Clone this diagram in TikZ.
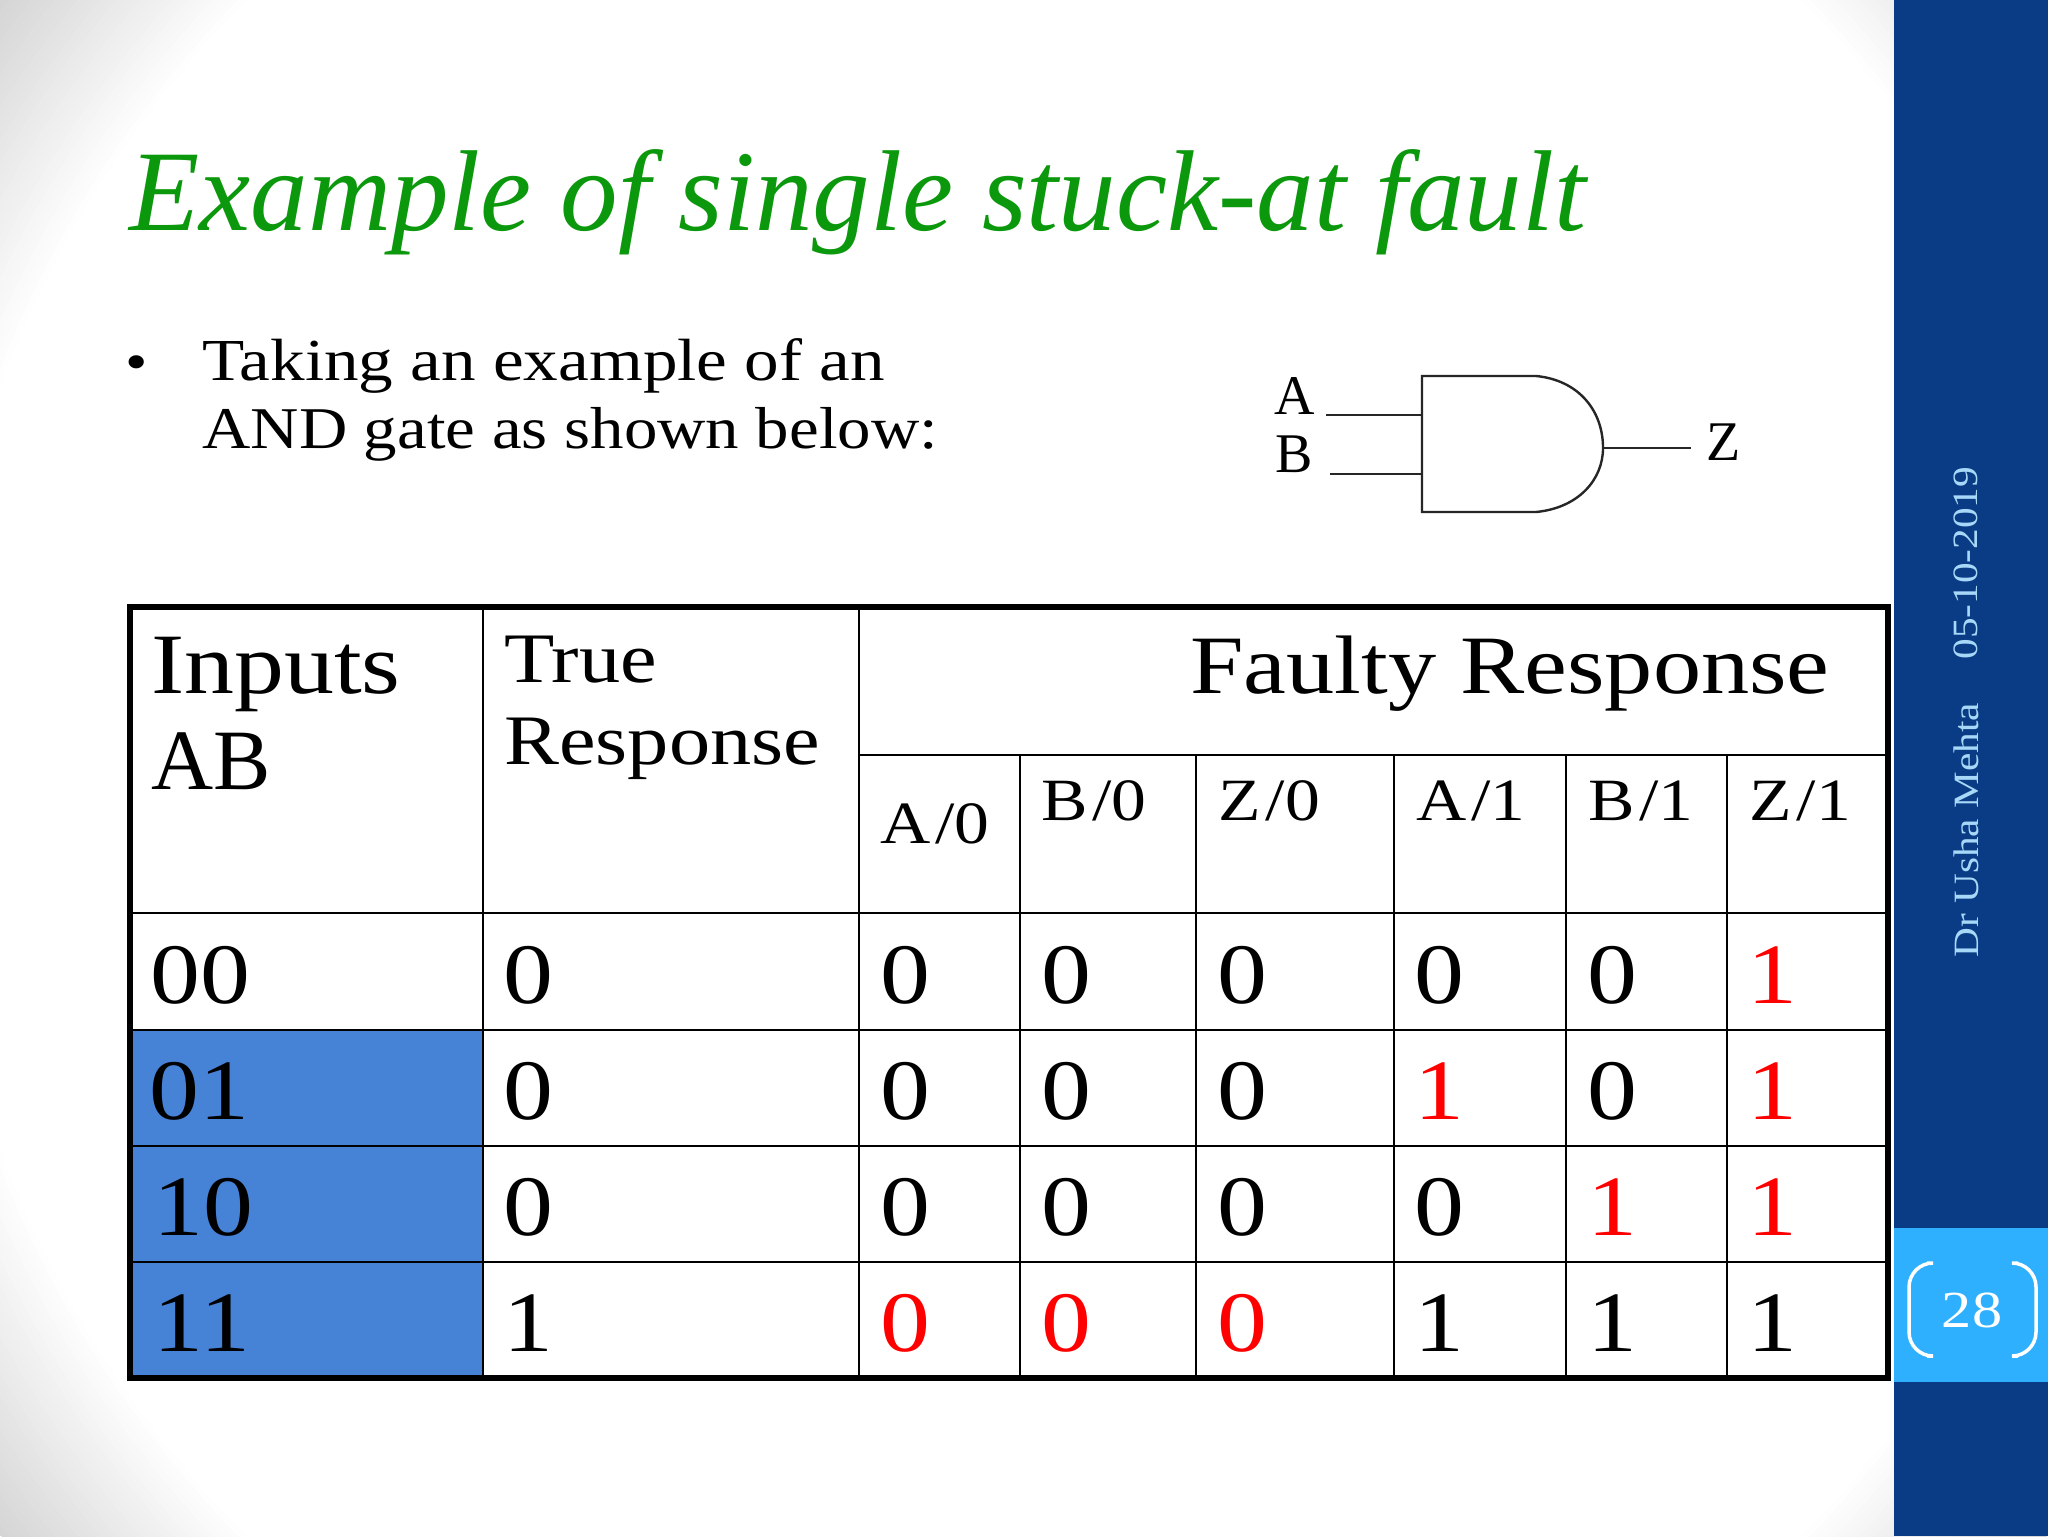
\documentclass[tikz,border=0pt]{standalone}
\usepackage{fontspec}
\newfontfamily\wideserif[FakeStretch=1.16]{Liberation Serif}
\newfontfamily\lineserif[FakeStretch=1.13]{Liberation Serif}
\newfontfamily\spacedserif[FakeStretch=1.16,LetterSpace=8]{Liberation Serif}
\newfontfamily\plainserif{Liberation Serif}
\newfontfamily\headserif{Liberation Serif Italic}
\definecolor{sidedark}{RGB}{10,60,134}
\definecolor{sidelight}{RGB}{47,176,255}
\definecolor{sidetext}{RGB}{168,216,248}
\definecolor{titlegreen}{RGB}{12,152,12}
\definecolor{cellblue}{RGB}{70,130,214}
\definecolor{cornergray}{RGB}{212,212,212}
\tikzset{%
  txt/.style={anchor=base west,inner sep=0pt,font=\wideserif\fontsize{#1}{#1}\selectfont},
  txt/.default=43,
  digit/.style={anchor=base,inner sep=0pt,font=\wideserif\fontsize{43}{43}\selectfont},
  off/.style={text=black},
  hit/.style={text=red},
  inner line/.style={line width=1.4pt},
  outer line/.style={line width=2.75pt},
  gate line/.style={line width=1.2pt,draw=black!85},
  gate txt/.style={anchor=base,inner sep=0pt,font=\plainserif\fontsize{28}{28}\selectfont},
  side txt/.style={anchor=west,rotate=90,inner sep=0pt,text=sidetext,font=\wideserif\fontsize{17.8}{17.8}\selectfont}
}

\begin{document}
\begin{tikzpicture}[x=0.5pt,y=-0.5pt]
    \useasboundingbox (0,0) rectangle (2048,1536);
    % backdrop, grey towards the corners
    \fill[cornergray] (0,0) rectangle (2048,1536);
    \begin{scope}
      \clip (0,0) rectangle (2048,1536);
      \foreach \i in {1,...,32}
        \fill[cornergray!\fpeval{100-100*\i/32}!white] (1024,768) circle ({1285-6*\i});
    \end{scope}
    \fill[sidedark] (1894,0) rectangle (2048,1536);
    \fill[sidelight] (1894,1228) rectangle (2048,1382);
    \node[side txt] (author) at (1966,958) {Dr Usha Mehta};
    \node[side txt] (date) at (1966,660) {05-10-2019};
    \draw[white,line width=1.75pt,rounded corners=12pt] (1927,1263)--(1909,1263)--(1909,1356)--(1927,1356);
    \draw[white,line width=1.75pt,rounded corners=12pt] (2018,1263)--(2036,1263)--(2036,1356)--(2018,1356);
    \node[inner sep=0pt,text=white,font=\wideserif\fontsize{26}{26}\selectfont] (page) at (1972,1310) {28};
    %
    \node[anchor=base west,inner sep=0pt,text=titlegreen,font=\headserif\fontsize{57.5}{57.5}\selectfont]
      (title) at (129,230) {Example of single stuck-at fault};
    \node[txt=27.5,anchor=base] (bullet) at (137,380) {•};
    \node[txt=29.8] (line1) at (202,380) {Taking an example of an};
    \node[anchor=base west,inner sep=0pt,font=\lineserif\fontsize{29.6}{29.6}\selectfont]
      (line2) at (202,448) {AND gate as shown below:};
    %
    \coordinate (gtl) at (1422,376);
    \coordinate (gbl) at (1422,512);
    \coordinate (gout) at (1603,448);
    \coordinate (ain) at (1326,415);
    \coordinate (aend) at (1422,415);
    \coordinate (bin) at (1330,474);
    \coordinate (bend) at (1422,474);
    \coordinate (zend) at (1691,448);
    \draw[gate line] (gtl)--(1536,376) .. controls (1578,380) and (1603,410) .. (gout)
      .. controls (1603,480) and (1578,508) .. (1536,512)--(gbl)--cycle;
    \draw[gate line] (ain)--(aend);
    \draw[gate line] (bin)--(bend);
    \draw[gate line] (gout)--(zend);
    \node[gate txt] (a) at (1295,414) {A};
    \node[gate txt] (b) at (1294,472) {B};
    \node[gate txt] (z) at (1724,460) {Z};
    %
    \fill[cellblue] (130,1030) rectangle (483,1378);
    \foreach \x in {483,859}
      \draw[inner line] (\x,607)--(\x,1378);
    \foreach \x in {1020,1196,1394,1566,1727}
      \draw[inner line] (\x,755)--(\x,1378);
    \draw[inner line] (859,755)--(1888,755);
    \foreach \y in {913,1030,1146,1262}
      \draw[inner line] (130,\y)--(1888,\y);
    \draw[outer line] (130,607) rectangle (1888,1378);
    %
    \node[txt] (inputs) at (151,693) {Inputs};
    \node[anchor=base west,inner sep=0pt,font=\plainserif\fontsize{43}{43}\selectfont] (ab) at (151,789) {AB};
    \node[txt=35.5] (truea) at (504,682) {True};
    \node[txt=35.5] (trueb) at (504,764) {Response};
    \node[txt=41.5] (faulty) at (1190,693) {Faulty Response};
    \foreach \x/\y/\t/\n in {880/843/A\slash 0/azero,1041/820/B\slash 0/bzero,
        1218/820/Z\slash 0/zzero,1416/820/A\slash 1/aone,1588/820/B\slash 1/bone,1749/820/Z\slash 1/zone}
      \node[anchor=base west,inner sep=0pt,font=\spacedserif\fontsize{30}{30}\selectfont] (\n) at (\x,\y) {\t};
    %
    \foreach \y/\r/\abx/\ab/\tr/\cells in {
        1003/p/200/00/0/{0/off,0/off,0/off,0/off,0/off,1/hit},
        1119/q/199/01/0/{0/off,0/off,0/off,1/hit,0/off,1/hit},
        1235/r/203/10/0/{0/off,0/off,0/off,0/off,1/hit,1/hit},
        1351/s/202/11/1/{0/hit,0/hit,0/hit,1/off,1/off,1/off}}{
      \node[digit] (\r ab) at (\abx,\y) {\ab};
      \node[digit] (\r tr) at (528,\y) {\tr};
      \foreach \v/\s [count=\c] in \cells {
        \pgfmathparse{{905,1066,1242,1439,1612,1772}[\c-1]}
        \node[digit,\s] (\r\c) at (\pgfmathresult,\y) {\v};
      }
    }
\end{tikzpicture}
\end{document}
